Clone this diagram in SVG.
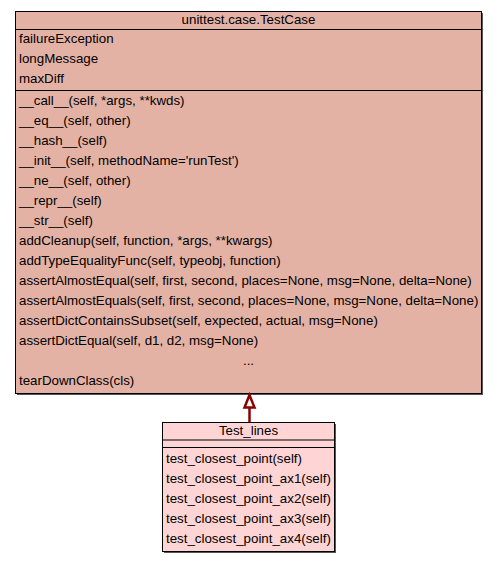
<svg xmlns="http://www.w3.org/2000/svg" width="499" height="561" viewBox="0 0 499 561">
<style>
text{font-family:"Liberation Sans",Arial,sans-serif;font-size:13.3px;fill:#000}
.box{stroke:#000;stroke-width:1}
.shadow{fill:#555}
.sep{stroke:#000;stroke-width:1}
.c{text-anchor:middle}
</style>
<rect width="499" height="561" fill="#fff"/>
<g id="TestCase">
<rect class="shadow" x="17" y="13" width="466" height="382"/>
<rect class="box" x="15.5" y="11.5" width="466" height="382" fill="#e4b2a4"/>
<line class="sep" x1="15.5" y1="29.5" x2="481.5" y2="29.5"/>
<line class="sep" x1="15.5" y1="90.5" x2="481.5" y2="90.5"/>
<text class="c" x="248.5" y="24">unittest.case.TestCase</text>
<text x="19" y="43">failureException</text>
<text x="19" y="63">longMessage</text>
<text x="19" y="83">maxDiff</text>
<text x="19" y="105">__call__(self, *args, **kwds)</text>
<text x="19" y="125">__eq__(self, other)</text>
<text x="19" y="145">__hash__(self)</text>
<text x="19" y="165">__init__(self, methodName='runTest')</text>
<text x="19" y="185">__ne__(self, other)</text>
<text x="19" y="205">__repr__(self)</text>
<text x="19" y="225">__str__(self)</text>
<text x="19" y="245">addCleanup(self, function, *args, **kwargs)</text>
<text x="19" y="265">addTypeEqualityFunc(self, typeobj, function)</text>
<text x="19" y="285">assertAlmostEqual(self, first, second, places=None, msg=None, delta=None)</text>
<text x="19" y="305">assertAlmostEquals(self, first, second, places=None, msg=None, delta=None)</text>
<text x="19" y="325">assertDictContainsSubset(self, expected, actual, msg=None)</text>
<text x="19" y="345">assertDictEqual(self, d1, d2, msg=None)</text>
<text class="c" x="248.5" y="365">...</text>
<text x="19" y="385">tearDownClass(cls)</text>
</g>
<g id="Test_lines">
<rect class="shadow" x="164" y="424" width="172" height="129"/>
<rect class="box" x="162.5" y="422.5" width="172" height="129" fill="#fed4d4"/>
<line class="sep" x1="162.5" y1="440" x2="334.5" y2="440" stroke-width="1.5"/>
<line class="sep" x1="162.5" y1="447.5" x2="334.5" y2="447.5" stroke-width="1.5"/>
<text class="c" x="248.5" y="435">Test_lines</text>
<text x="166" y="463">test_closest_point(self)</text>
<text x="166" y="483">test_closest_point_ax1(self)</text>
<text x="166" y="503">test_closest_point_ax2(self)</text>
<text x="166" y="523">test_closest_point_ax3(self)</text>
<text x="166" y="543">test_closest_point_ax4(self)</text>
</g>
<g id="connectors">
<line x1="249.5" y1="422" x2="249.5" y2="408" stroke="#8b0000" stroke-width="2.5"/>
<polygon points="249.5,395 244.5,407.5 254.5,407.5" fill="#fff" stroke="#8b0000" stroke-width="2.5"/>
</g>
</svg>
